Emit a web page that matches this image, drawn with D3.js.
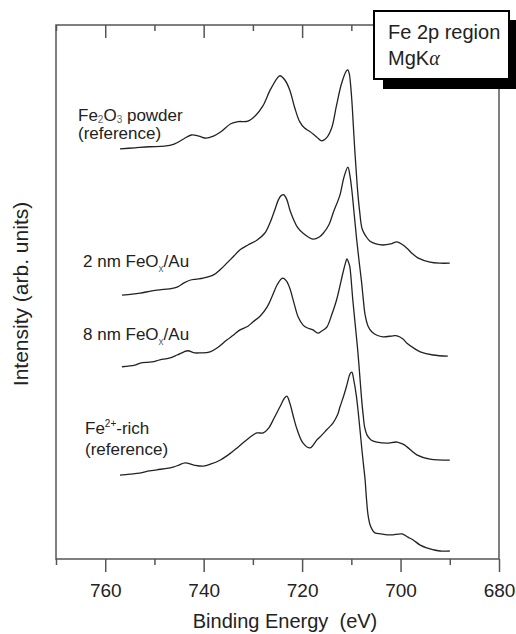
<!DOCTYPE html>
<html lang="en">
  <head>
    <meta charset="UTF-8" />
    <title>Fe 2p XPS</title>
    <script src="https://d3js.org/d3.v7.min.js"></script>
    <style>
      body { margin: 0; background: #fff; }
      text { font-family: "Liberation Sans", Arial, sans-serif; fill: #222; }
    </style>
  </head>
  <body>
    <div id="chart"></div>
    <script>
      // binding energy (eV), intensity (arb. units)
      var fe2o3 = [
        [757, 76.8], [754, 77.0], [751, 77.2], [748, 77.3], [746, 77.7], [744, 78.7],
        [742.5, 79.4], [741, 79.2], [739.5, 78.8], [738, 79.2], [736.5, 80.0], [734.5, 81.5],
        [733, 81.9], [731, 82.0], [729.5, 83.0], [728, 84.8], [726.5, 87.8], [725, 90.1],
        [724.5, 90.5], [723.5, 89.7], [722.5, 87.8], [721.5, 84.5], [720.5, 81.9], [719.5, 80.7],
        [718.5, 80.1], [717, 79.0], [716, 78.3], [715, 78.9], [714, 80.7], [713, 85.0],
        [712, 89.0], [711, 91.4], [710.7, 91.6], [710.4, 90.8], [710.2, 89.3], [709.9, 85.9],
        [709.6, 81.3], [709.3, 76.6], [709.0, 72.5], [708.7, 68.7], [708.3, 65.0], [707.8, 61.8],
        [707, 60.4], [706.2, 59.5], [705, 59.0], [703.6, 58.8], [702, 59.0], [700.7, 59.4],
        [699.5, 58.8], [698.7, 58.2], [697.5, 57.1], [696.5, 56.4], [694, 55.6], [692, 55.4], [690, 55.4]
      ];
      var nm2 = [
        [756.6, 49.4], [754.5, 49.6], [752.9, 49.8], [750.5, 50.2], [748.9, 50.4], [747, 50.6],
        [745.4, 50.9], [744, 51.7], [742.8, 52.2], [741.5, 52.4], [740.1, 52.6], [738, 53.2],
        [736.5, 54.3], [735.3, 55.4], [734, 56.6], [732.6, 57.9], [731, 58.8], [729.2, 59.7],
        [727.6, 61.0], [726.5, 63.0], [725.5, 65.5], [724.8, 67.3], [724.2, 68.1], [723.7, 68.2],
        [723.1, 67.3], [722.5, 65.4], [721.7, 63.5], [721, 62.2], [719.8, 61.0], [717.8, 59.9],
        [716.5, 60.3], [715.7, 61.0], [714.5, 62.7], [713.7, 64.8], [712.3, 68.2], [711.5, 71.5],
        [710.7, 73.4], [710.3, 71.9], [709.9, 69.1], [709.4, 64.4], [708.9, 59.7], [708.4, 55.6],
        [707.9, 51.7], [707.6, 48.9], [707.2, 45.7], [706.6, 43.6], [705.8, 42.5], [704.8, 41.9],
        [703.6, 41.6], [701.5, 41.8], [700.7, 41.8], [699.5, 41.2], [698.7, 40.4], [697, 39.3],
        [696, 38.8], [693.4, 38.2], [690.4, 38.0]
      ];
      var nm8 = [
        [756.6, 36.0], [754, 36.3], [752.9, 36.7], [750.5, 36.9], [748.9, 37.3], [747, 37.6],
        [745.4, 38.2], [744, 38.8], [743.2, 39.0], [741.8, 38.6], [740.7, 38.6], [738.7, 38.8],
        [737, 39.7], [735.3, 41.0], [734, 41.9], [732.6, 42.9], [731, 43.6], [730, 44.4],
        [728.5, 45.5], [727.1, 47.2], [726, 49.4], [725.1, 51.3], [724.3, 52.4], [723.9, 52.6],
        [723.2, 52.1], [722.5, 50.7], [721.7, 48.1], [720.8, 45.3], [719.8, 43.8], [719, 43.3],
        [717.8, 42.9], [716.8, 42.3], [716, 42.7], [715, 43.4], [714, 45.7], [713, 48.5],
        [711.7, 53.6], [711.2, 55.4], [710.9, 56.2], [710.5, 55.4], [710.3, 54.7], [709.7, 48.5],
        [709.2, 43.8], [708.7, 39.1], [708.3, 34.5], [707.9, 29.8], [707.6, 27.0], [707.3, 24.7],
        [706.8, 23.2], [706, 22.3], [704.8, 21.9], [702.8, 21.7], [700.7, 21.9], [699.5, 21.5],
        [698.7, 21.0], [696.7, 19.5], [694, 18.7], [690, 18.5]
      ];
      var fe2rich = [
        [757, 15.7], [755, 15.9], [753, 16.1], [751, 16.5], [749.5, 16.7], [746.2, 17.2],
        [745, 17.6], [743.8, 18.0], [742, 17.6], [740.1, 17.4], [738.5, 17.8], [736.7, 18.5],
        [735, 19.5], [733.2, 20.8], [731.8, 21.9], [730.6, 22.8], [729.2, 23.6], [727.9, 23.6],
        [726.8, 24.5], [725.9, 26.0], [724.5, 28.5], [723.6, 30.1], [723.1, 30.5], [722.5, 29.2],
        [721.7, 26.4], [721, 24.2], [719.8, 21.7], [718.4, 20.8], [717, 22.3], [716, 23.2],
        [715, 24.2], [713.7, 25.5], [712.8, 27.0], [712.3, 28.5], [711.5, 30.7], [710.9, 32.6],
        [710.3, 34.6], [709.9, 35.0], [709.5, 33.5], [709.0, 30.7], [708.6, 27.5], [708.2, 23.8],
        [707.8, 20.0], [707.5, 17.4], [707.2, 14.8], [706.9, 11.0], [706.6, 8.2], [706.2, 6.4],
        [705.7, 5.4], [705.2, 4.9], [704, 4.7], [702, 4.5], [699.7, 4.7], [698.5, 4.1],
        [697.5, 3.6], [696, 2.6], [694.7, 2.1], [692, 1.5], [690, 1.5]
      ];
      var spectra = [fe2o3, nm2, nm8, fe2rich];
      var majorTicks = [760, 740, 720, 700, 680];
      var minorTicks = [770, 750, 730, 710, 690];

      var W = 516, H = 634;
      var mLeft = 56, mTop = 25, mRight = 499, mBottom = 559;

      var svg = d3.select("#chart").append("svg")
        .attr("width", W).attr("height", H);

      var x = d3.scaleLinear().domain([770, 680]).range([mLeft, mRight]);
      var y = d3.scaleLinear().domain([0, 100]).range([mBottom, mTop]);

      // frame
      svg.append("rect")
        .attr("x", mLeft).attr("y", mTop)
        .attr("width", mRight - mLeft).attr("height", mBottom - mTop)
        .attr("fill", "none").attr("stroke", "#555").attr("stroke-width", 1.5);

      function axisStyle(g) {
        g.select(".domain").remove();
        g.selectAll("line").attr("stroke", "#555").attr("stroke-width", 1.5);
      }

      svg.append("g").attr("transform", "translate(0," + mBottom + ")")
        .call(d3.axisBottom(x).tickValues(majorTicks).tickSize(13).tickFormat(d3.format("d")))
        .call(axisStyle)
        .call(function (g) {
          g.selectAll("text").attr("y", 38).attr("dy", null)
            .style("font-size", "19px").style("font-family", null).attr("fill", "#222");
        });
      svg.append("g").attr("transform", "translate(0," + mBottom + ")")
        .call(d3.axisBottom(x).tickValues(minorTicks).tickSize(6).tickFormat(""))
        .call(axisStyle);
      svg.append("g").attr("transform", "translate(0," + mTop + ")")
        .call(d3.axisTop(x).tickValues(majorTicks).tickSize(-13).tickFormat(""))
        .call(axisStyle);
      svg.append("g").attr("transform", "translate(0," + mTop + ")")
        .call(d3.axisTop(x).tickValues(minorTicks).tickSize(-6).tickFormat(""))
        .call(axisStyle);

      // spectra
      var line = d3.line()
        .x(function (d) { return x(d[0]); })
        .y(function (d) { return y(d[1]); })
        .curve(d3.curveCatmullRom.alpha(0.5));

      svg.append("g").selectAll("path")
        .data(spectra)
        .join("path")
        .attr("d", line)
        .attr("fill", "none")
        .attr("stroke", "#222")
        .attr("stroke-width", 1.3);

      // axis titles
      svg.append("text")
        .attr("x", 285).attr("y", 628)
        .attr("text-anchor", "middle")
        .style("font-size", "20px")
        .attr("xml:space", "preserve")
        .text("Binding Energy  (eV)");

      svg.append("text")
        .attr("transform", "translate(28,294) rotate(-90)")
        .attr("text-anchor", "middle")
        .style("font-size", "21px")
        .text("Intensity (arb. units)");

      // curve labels: [text, kind, dy]
      function label(xp, yp, parts) {
        var t = svg.append("text").attr("x", xp).attr("y", yp).style("font-size", "17px");
        parts.forEach(function (p) {
          var s = t.append("tspan").text(p[0]);
          if (p[1] === "sub") s.style("font-size", "10px").attr("dy", p[2]).attr("fill", "#666");
          if (p[1] === "sup") s.style("font-size", "10px").attr("dy", p[2]);
          if (p[1] === "back") s.attr("dy", p[2]);
        });
      }
      label(78, 121, [["Fe"], ["2", "sub", 2], ["O", "back", -2], ["3", "sub", 2], [" powder", "back", -2]]);
      label(78, 139, [["(reference)"]]);
      label(83, 267, [["2 nm FeO"], ["x", "sub", 5], ["/Au", "back", -5]]);
      label(83, 340, [["8 nm FeO"], ["x", "sub", 5], ["/Au", "back", -5]]);
      label(85, 434, [["Fe"], ["2+", "sup", -7], ["-rich", "back", 7]]);
      label(85, 455, [["(reference)"]]);

      // legend box with shadow
      svg.append("rect")
        .attr("x", 383).attr("y", 20).attr("width", 135).attr("height", 69)
        .attr("fill", "#000");
      svg.append("rect")
        .attr("x", 374).attr("y", 11).attr("width", 135).attr("height", 68)
        .attr("fill", "#fff").attr("stroke", "#000").attr("stroke-width", 2);
      svg.append("text").attr("x", 388).attr("y", 39)
        .style("font-size", "20px").text("Fe 2p region");
      var mg = svg.append("text").attr("x", 388).attr("y", 65).style("font-size", "20px");
      mg.append("tspan").text("MgK");
      mg.append("tspan")
        .style("font-family", "'Liberation Serif', serif")
        .style("font-style", "italic")
        .text("α");
    </script>
  </body>
</html>
